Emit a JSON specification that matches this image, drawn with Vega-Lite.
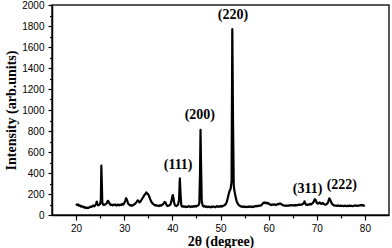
{
  "$schema": "https://vega.github.io/schema/vega-lite/v6.json",
  "width": 337,
  "height": 210,
  "autosize": {"type": "none"},
  "padding": {"left": 52, "top": 5, "right": 3, "bottom": 33},
  "background": "white",
  "config": {
    "view": {"stroke": "#222222", "strokeWidth": 1.5},
    "axis": {
      "domainColor": "black",
      "domainWidth": 1.5,
      "tickColor": "black",
      "tickWidth": 1.2,
      "grid": false,
      "labelFont": "Liberation Sans",
      "labelFontSize": 10,
      "labelColor": "black",
      "titleFont": "Liberation Serif",
      "titleFontSize": 14,
      "titleFontWeight": "bold",
      "titleColor": "black"
    }
  },
  "datasets": {
    "xrd": [
      {"two_theta": 20.0, "intensity": 105}, {"two_theta": 20.2, "intensity": 95}, {"two_theta": 20.4, "intensity": 100},
      {"two_theta": 20.6, "intensity": 88}, {"two_theta": 20.8, "intensity": 92}, {"two_theta": 21.0, "intensity": 80},
      {"two_theta": 21.2, "intensity": 85}, {"two_theta": 21.4, "intensity": 75}, {"two_theta": 21.6, "intensity": 78},
      {"two_theta": 21.8, "intensity": 68}, {"two_theta": 22.0, "intensity": 72}, {"two_theta": 22.2, "intensity": 65},
      {"two_theta": 22.4, "intensity": 70}, {"two_theta": 22.6, "intensity": 68}, {"two_theta": 22.8, "intensity": 75},
      {"two_theta": 23.0, "intensity": 80}, {"two_theta": 23.2, "intensity": 78}, {"two_theta": 23.4, "intensity": 85},
      {"two_theta": 23.6, "intensity": 90}, {"two_theta": 23.8, "intensity": 82}, {"two_theta": 24.0, "intensity": 95},
      {"two_theta": 24.2, "intensity": 110}, {"two_theta": 24.3, "intensity": 128}, {"two_theta": 24.4, "intensity": 105},
      {"two_theta": 24.6, "intensity": 92}, {"two_theta": 24.8, "intensity": 98}, {"two_theta": 25.0, "intensity": 105},
      {"two_theta": 25.15, "intensity": 150}, {"two_theta": 25.25, "intensity": 470}, {"two_theta": 25.35, "intensity": 300},
      {"two_theta": 25.45, "intensity": 120}, {"two_theta": 25.6, "intensity": 100}, {"two_theta": 25.8, "intensity": 95},
      {"two_theta": 26.0, "intensity": 100}, {"two_theta": 26.2, "intensity": 105}, {"two_theta": 26.4, "intensity": 115},
      {"two_theta": 26.6, "intensity": 135}, {"two_theta": 26.8, "intensity": 125}, {"two_theta": 27.0, "intensity": 105},
      {"two_theta": 27.2, "intensity": 95}, {"two_theta": 27.4, "intensity": 100}, {"two_theta": 27.6, "intensity": 92},
      {"two_theta": 27.8, "intensity": 98}, {"two_theta": 28.0, "intensity": 95}, {"two_theta": 28.2, "intensity": 100},
      {"two_theta": 28.4, "intensity": 90}, {"two_theta": 28.6, "intensity": 95}, {"two_theta": 28.8, "intensity": 100},
      {"two_theta": 29.0, "intensity": 92}, {"two_theta": 29.2, "intensity": 98}, {"two_theta": 29.4, "intensity": 95},
      {"two_theta": 29.6, "intensity": 105}, {"two_theta": 29.8, "intensity": 100}, {"two_theta": 30.0, "intensity": 112},
      {"two_theta": 30.2, "intensity": 135}, {"two_theta": 30.4, "intensity": 160}, {"two_theta": 30.6, "intensity": 140},
      {"two_theta": 30.8, "intensity": 110}, {"two_theta": 31.0, "intensity": 100}, {"two_theta": 31.2, "intensity": 92},
      {"two_theta": 31.4, "intensity": 95}, {"two_theta": 31.6, "intensity": 88}, {"two_theta": 31.8, "intensity": 92},
      {"two_theta": 32.0, "intensity": 98}, {"two_theta": 32.2, "intensity": 105}, {"two_theta": 32.4, "intensity": 115},
      {"two_theta": 32.6, "intensity": 125}, {"two_theta": 32.8, "intensity": 140}, {"two_theta": 33.0, "intensity": 130},
      {"two_theta": 33.2, "intensity": 120}, {"two_theta": 33.4, "intensity": 130}, {"two_theta": 33.6, "intensity": 145},
      {"two_theta": 33.8, "intensity": 160}, {"two_theta": 34.0, "intensity": 175}, {"two_theta": 34.2, "intensity": 190},
      {"two_theta": 34.4, "intensity": 200}, {"two_theta": 34.6, "intensity": 215}, {"two_theta": 34.8, "intensity": 205},
      {"two_theta": 35.0, "intensity": 195}, {"two_theta": 35.2, "intensity": 175}, {"two_theta": 35.4, "intensity": 150},
      {"two_theta": 35.6, "intensity": 130}, {"two_theta": 35.8, "intensity": 115}, {"two_theta": 36.0, "intensity": 105},
      {"two_theta": 36.2, "intensity": 98}, {"two_theta": 36.4, "intensity": 92}, {"two_theta": 36.6, "intensity": 95},
      {"two_theta": 36.8, "intensity": 88}, {"two_theta": 37.0, "intensity": 90}, {"two_theta": 37.2, "intensity": 85},
      {"two_theta": 37.4, "intensity": 92}, {"two_theta": 37.6, "intensity": 88}, {"two_theta": 37.8, "intensity": 95},
      {"two_theta": 38.0, "intensity": 100}, {"two_theta": 38.2, "intensity": 110}, {"two_theta": 38.4, "intensity": 125},
      {"two_theta": 38.6, "intensity": 118}, {"two_theta": 38.8, "intensity": 95}, {"two_theta": 39.0, "intensity": 85},
      {"two_theta": 39.2, "intensity": 88}, {"two_theta": 39.4, "intensity": 92}, {"two_theta": 39.6, "intensity": 100},
      {"two_theta": 39.8, "intensity": 130}, {"two_theta": 40.0, "intensity": 180}, {"two_theta": 40.1, "intensity": 190},
      {"two_theta": 40.2, "intensity": 170}, {"two_theta": 40.4, "intensity": 110}, {"two_theta": 40.6, "intensity": 90},
      {"two_theta": 40.8, "intensity": 85}, {"two_theta": 41.0, "intensity": 92}, {"two_theta": 41.2, "intensity": 100},
      {"two_theta": 41.4, "intensity": 150}, {"two_theta": 41.55, "intensity": 350}, {"two_theta": 41.7, "intensity": 200},
      {"two_theta": 41.85, "intensity": 95}, {"two_theta": 42.0, "intensity": 80}, {"two_theta": 42.2, "intensity": 85},
      {"two_theta": 42.4, "intensity": 78}, {"two_theta": 42.6, "intensity": 82}, {"two_theta": 42.8, "intensity": 75},
      {"two_theta": 43.0, "intensity": 80}, {"two_theta": 43.2, "intensity": 78}, {"two_theta": 43.4, "intensity": 85},
      {"two_theta": 43.6, "intensity": 80}, {"two_theta": 43.8, "intensity": 76}, {"two_theta": 44.0, "intensity": 82},
      {"two_theta": 44.2, "intensity": 78}, {"two_theta": 44.4, "intensity": 85}, {"two_theta": 44.6, "intensity": 80},
      {"two_theta": 44.8, "intensity": 86}, {"two_theta": 45.0, "intensity": 82}, {"two_theta": 45.2, "intensity": 88},
      {"two_theta": 45.4, "intensity": 92}, {"two_theta": 45.6, "intensity": 110}, {"two_theta": 45.75, "intensity": 400},
      {"two_theta": 45.85, "intensity": 810}, {"two_theta": 45.95, "intensity": 500}, {"two_theta": 46.1, "intensity": 130},
      {"two_theta": 46.3, "intensity": 90}, {"two_theta": 46.5, "intensity": 80}, {"two_theta": 46.7, "intensity": 85},
      {"two_theta": 46.9, "intensity": 78}, {"two_theta": 47.1, "intensity": 82}, {"two_theta": 47.3, "intensity": 75},
      {"two_theta": 47.5, "intensity": 80}, {"two_theta": 47.7, "intensity": 78}, {"two_theta": 47.9, "intensity": 72},
      {"two_theta": 48.1, "intensity": 80}, {"two_theta": 48.3, "intensity": 76}, {"two_theta": 48.5, "intensity": 82},
      {"two_theta": 48.7, "intensity": 78}, {"two_theta": 48.9, "intensity": 74}, {"two_theta": 49.1, "intensity": 80},
      {"two_theta": 49.3, "intensity": 85}, {"two_theta": 49.5, "intensity": 78}, {"two_theta": 49.7, "intensity": 82},
      {"two_theta": 49.9, "intensity": 80}, {"two_theta": 50.1, "intensity": 86}, {"two_theta": 50.3, "intensity": 80},
      {"two_theta": 50.5, "intensity": 85}, {"two_theta": 50.7, "intensity": 90}, {"two_theta": 50.9, "intensity": 95},
      {"two_theta": 51.1, "intensity": 105}, {"two_theta": 51.3, "intensity": 125}, {"two_theta": 51.5, "intensity": 160},
      {"two_theta": 51.7, "intensity": 200}, {"two_theta": 51.9, "intensity": 230}, {"two_theta": 52.1, "intensity": 250},
      {"two_theta": 52.3, "intensity": 320}, {"two_theta": 52.45, "intensity": 1770}, {"two_theta": 52.6, "intensity": 900},
      {"two_theta": 52.75, "intensity": 280}, {"two_theta": 52.9, "intensity": 230}, {"two_theta": 53.1, "intensity": 180},
      {"two_theta": 53.3, "intensity": 140}, {"two_theta": 53.5, "intensity": 115}, {"two_theta": 53.7, "intensity": 100},
      {"two_theta": 53.9, "intensity": 90}, {"two_theta": 54.1, "intensity": 85}, {"two_theta": 54.3, "intensity": 80},
      {"two_theta": 54.5, "intensity": 78}, {"two_theta": 54.7, "intensity": 82}, {"two_theta": 54.9, "intensity": 76},
      {"two_theta": 55.1, "intensity": 80}, {"two_theta": 55.3, "intensity": 78}, {"two_theta": 55.5, "intensity": 75},
      {"two_theta": 55.7, "intensity": 80}, {"two_theta": 55.9, "intensity": 77}, {"two_theta": 56.1, "intensity": 82},
      {"two_theta": 56.3, "intensity": 78}, {"two_theta": 56.5, "intensity": 80}, {"two_theta": 56.7, "intensity": 76},
      {"two_theta": 56.9, "intensity": 82}, {"two_theta": 57.1, "intensity": 80}, {"two_theta": 57.3, "intensity": 85},
      {"two_theta": 57.5, "intensity": 82}, {"two_theta": 57.7, "intensity": 88}, {"two_theta": 57.9, "intensity": 85},
      {"two_theta": 58.1, "intensity": 90}, {"two_theta": 58.3, "intensity": 88}, {"two_theta": 58.5, "intensity": 95},
      {"two_theta": 58.7, "intensity": 105}, {"two_theta": 58.9, "intensity": 115}, {"two_theta": 59.1, "intensity": 120},
      {"two_theta": 59.3, "intensity": 112}, {"two_theta": 59.5, "intensity": 118}, {"two_theta": 59.7, "intensity": 110},
      {"two_theta": 59.9, "intensity": 115}, {"two_theta": 60.1, "intensity": 105}, {"two_theta": 60.3, "intensity": 100},
      {"two_theta": 60.5, "intensity": 95}, {"two_theta": 60.7, "intensity": 100}, {"two_theta": 60.9, "intensity": 97},
      {"two_theta": 61.1, "intensity": 102}, {"two_theta": 61.3, "intensity": 98}, {"two_theta": 61.5, "intensity": 95},
      {"two_theta": 61.7, "intensity": 100}, {"two_theta": 61.9, "intensity": 105}, {"two_theta": 62.1, "intensity": 102},
      {"two_theta": 62.3, "intensity": 110}, {"two_theta": 62.5, "intensity": 108}, {"two_theta": 62.7, "intensity": 100},
      {"two_theta": 62.9, "intensity": 95}, {"two_theta": 63.1, "intensity": 92}, {"two_theta": 63.3, "intensity": 88},
      {"two_theta": 63.5, "intensity": 90}, {"two_theta": 63.7, "intensity": 86}, {"two_theta": 63.9, "intensity": 90},
      {"two_theta": 64.1, "intensity": 88}, {"two_theta": 64.3, "intensity": 92}, {"two_theta": 64.5, "intensity": 90},
      {"two_theta": 64.7, "intensity": 95}, {"two_theta": 64.9, "intensity": 92}, {"two_theta": 65.1, "intensity": 90},
      {"two_theta": 65.3, "intensity": 94}, {"two_theta": 65.5, "intensity": 90}, {"two_theta": 65.7, "intensity": 96},
      {"two_theta": 65.9, "intensity": 92}, {"two_theta": 66.1, "intensity": 95}, {"two_theta": 66.3, "intensity": 100},
      {"two_theta": 66.5, "intensity": 96}, {"two_theta": 66.7, "intensity": 100}, {"two_theta": 66.9, "intensity": 98},
      {"two_theta": 67.1, "intensity": 105}, {"two_theta": 67.3, "intensity": 115}, {"two_theta": 67.45, "intensity": 130},
      {"two_theta": 67.6, "intensity": 110}, {"two_theta": 67.8, "intensity": 98}, {"two_theta": 68.0, "intensity": 95},
      {"two_theta": 68.2, "intensity": 100}, {"two_theta": 68.4, "intensity": 98}, {"two_theta": 68.6, "intensity": 105},
      {"two_theta": 68.8, "intensity": 100}, {"two_theta": 69.0, "intensity": 108}, {"two_theta": 69.2, "intensity": 115},
      {"two_theta": 69.4, "intensity": 130}, {"two_theta": 69.6, "intensity": 150}, {"two_theta": 69.8, "intensity": 140},
      {"two_theta": 70.0, "intensity": 115}, {"two_theta": 70.2, "intensity": 108}, {"two_theta": 70.4, "intensity": 112},
      {"two_theta": 70.6, "intensity": 120}, {"two_theta": 70.8, "intensity": 110}, {"two_theta": 71.0, "intensity": 105},
      {"two_theta": 71.2, "intensity": 115}, {"two_theta": 71.4, "intensity": 108}, {"two_theta": 71.6, "intensity": 100},
      {"two_theta": 71.8, "intensity": 98}, {"two_theta": 72.0, "intensity": 102}, {"two_theta": 72.2, "intensity": 110},
      {"two_theta": 72.4, "intensity": 130}, {"two_theta": 72.6, "intensity": 158}, {"two_theta": 72.8, "intensity": 145},
      {"two_theta": 73.0, "intensity": 120}, {"two_theta": 73.2, "intensity": 105}, {"two_theta": 73.4, "intensity": 95},
      {"two_theta": 73.6, "intensity": 92}, {"two_theta": 73.8, "intensity": 88}, {"two_theta": 74.0, "intensity": 90},
      {"two_theta": 74.2, "intensity": 86}, {"two_theta": 74.4, "intensity": 92}, {"two_theta": 74.6, "intensity": 88},
      {"two_theta": 74.8, "intensity": 85}, {"two_theta": 75.0, "intensity": 90}, {"two_theta": 75.2, "intensity": 86},
      {"two_theta": 75.4, "intensity": 88}, {"two_theta": 75.6, "intensity": 84}, {"two_theta": 75.8, "intensity": 90},
      {"two_theta": 76.0, "intensity": 86}, {"two_theta": 76.2, "intensity": 84}, {"two_theta": 76.4, "intensity": 88},
      {"two_theta": 76.6, "intensity": 85}, {"two_theta": 76.8, "intensity": 90}, {"two_theta": 77.0, "intensity": 86},
      {"two_theta": 77.2, "intensity": 88}, {"two_theta": 77.4, "intensity": 84}, {"two_theta": 77.6, "intensity": 86},
      {"two_theta": 77.8, "intensity": 90}, {"two_theta": 78.0, "intensity": 88}, {"two_theta": 78.2, "intensity": 92},
      {"two_theta": 78.4, "intensity": 86}, {"two_theta": 78.6, "intensity": 90}, {"two_theta": 78.8, "intensity": 88},
      {"two_theta": 79.0, "intensity": 92}, {"two_theta": 79.2, "intensity": 95}, {"two_theta": 79.4, "intensity": 90},
      {"two_theta": 79.6, "intensity": 94}, {"two_theta": 79.8, "intensity": 88}, {"two_theta": 80.0, "intensity": 92}
    ],
    "labels": [
      {"two_theta": 41.2, "intensity": 476, "hkl": "(111)"},
      {"two_theta": 45.7, "intensity": 952, "hkl": "(200)"},
      {"two_theta": 52.6, "intensity": 1905, "hkl": "(220)"},
      {"two_theta": 68.1, "intensity": 248, "hkl": "(311)"},
      {"two_theta": 75.2, "intensity": 286, "hkl": "(222)"}
    ]
  },
  "resolve": {"axis": {"x": "independent", "y": "independent"}},
  "layer": [
    {
      "data": {"name": "xrd"},
      "mark": {"type": "line", "color": "black", "strokeWidth": 2.2, "strokeJoin": "round"},
      "encoding": {
        "x": {
          "field": "two_theta", "type": "quantitative",
          "scale": {"domain": [15, 85], "nice": false, "zero": false},
          "axis": {"orient": "bottom", "values": [20, 30, 40, 50, 60, 70, 80], "format": "d", "tickSize": 5, "labelPadding": 3, "title": "2θ (degree)", "titlePadding": 1}
        },
        "y": {
          "field": "intensity", "type": "quantitative",
          "scale": {"domain": [0, 2000], "nice": false},
          "axis": {"orient": "left", "values": [0, 200, 400, 600, 800, 1000, 1200, 1400, 1600, 1800, 2000], "format": "d", "tickSize": 4, "labelPadding": 4, "title": "Intensity (arb.units)", "titlePadding": 3}
        }
      }
    },
    {
      "data": {"name": "labels"},
      "mark": {"type": "text", "font": "Liberation Serif", "fontSize": 14, "fontWeight": "bold", "color": "black", "baseline": "middle", "align": "center"},
      "encoding": {
        "x": {
          "field": "two_theta", "type": "quantitative",
          "axis": {"orient": "bottom", "values": [25, 35, 45, 55, 65, 75], "tickSize": 3, "labels": false, "domain": false, "title": null}
        },
        "y": {
          "field": "intensity", "type": "quantitative",
          "axis": {"orient": "left", "values": [100, 300, 500, 700, 900, 1100, 1300, 1500, 1700, 1900], "tickSize": 2.5, "labels": false, "domain": false, "title": null}
        },
        "text": {"field": "hkl"}
      }
    }
  ]
}
